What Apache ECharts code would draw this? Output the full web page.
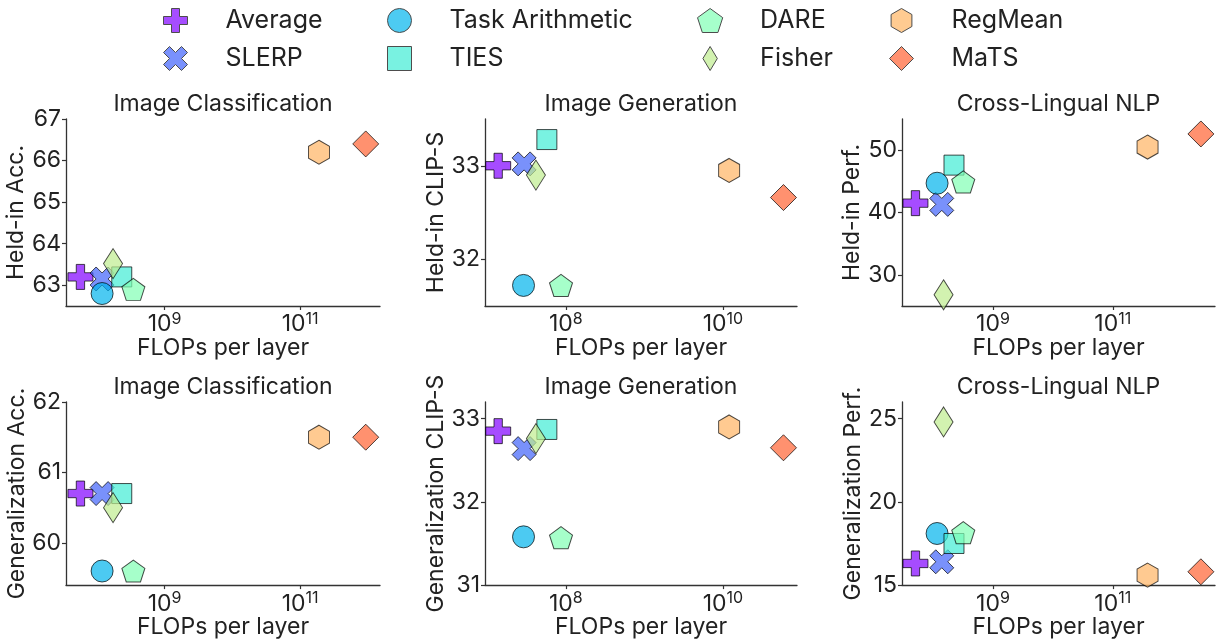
<!DOCTYPE html>
<html>
<head>
<meta charset="utf-8">
<script src="https://cdn.jsdelivr.net/npm/echarts@6/dist/echarts.min.js"></script>
<style>html,body{margin:0;padding:0;background:#fff}#c{width:1225px;height:640px}</style>
</head>
<body>
<div id="c"></div>
<script>
// ---- data ----
const methods = ['Average', 'SLERP', 'Task Arithmetic', 'TIES', 'DARE', 'Fisher', 'RegMean', 'MaTS'];
const tasks = ['Image Classification', 'Image Generation', 'Cross-Lingual NLP'];
// FLOPs per layer (x), per task, in method order
const flopsImgCls = [5.75e7, 1.2e8, 1.2e8, 2.34e8, 3.47e8, 1.74e8, 1.9e11, 9.3e11];
const flopsImgGen = [1.38e7, 2.95e7, 2.9e7, 5.75e7, 8.7e7, 4.17e7, 1.2e10, 5.9e10];
const flopsNLP    = [5.1e7, 1.4e8, 1.17e8, 2.24e8, 3.2e8, 1.5e8, 3.8e11, 2.95e12];
// held-in metric (top row)
const heldInImgCls = [63.2, 63.15, 62.8, 63.2, 62.9, 63.52, 66.2, 66.4];
const heldInImgGen = [33.0, 33.02, 31.72, 33.28, 31.72, 32.9, 32.95, 32.66];
const heldInNLP    = [41.5, 41.3, 44.7, 47.6, 44.9, 26.8, 50.5, 52.6];
// generalization metric (bottom row)
const genImgCls = [60.7, 60.7, 59.6, 60.7, 59.6, 60.5, 61.5, 61.5];
const genImgGen = [32.85, 32.64, 31.58, 32.87, 31.57, 32.76, 32.9, 32.65];
const genNLP    = [16.3, 16.4, 18.1, 17.5, 18.15, 24.8, 15.6, 15.8];
// axis labels and ticks
const yNames = ['Held-in Acc.', 'Held-in CLIP-S', 'Held-in Perf.', 'Generalization Acc.', 'Generalization CLIP-S', 'Generalization Perf.'];
const yTicks = [[63, 64, 65, 66, 67], [32, 33], [30, 40, 50], [60, 61, 62], [31, 32, 33], [15, 20, 25]];
const yRanges = [[62.5, 67], [31.5, 33.5], [25, 55], [59.4, 62], [31, 33.2], [15, 26]];
const xTicks = [[1e9, 1e11], [1e8, 1e10], [1e9, 1e11]];
const xRanges = [[3.52e7, 1.51e12], [9.38e6, 8.77e10], [3.04e7, 5.07e12]];
const xName = 'FLOPs per layer';

// ---- styling ----
const colors = ['#8000ff', '#4062fa', '#00b4ec', '#40ecd4', '#80ffb4', '#bfec8e', '#ffb462', '#ff6232'];
const legendColors = ['#a64dff', '#7991fc', '#4dcbf2', '#79f2e1', '#a6ffcb', '#d2f2b0', '#ffcb91', '#ff9170'];
const SYM = {
  plus: 'path://M1,0H2V1H3V2H2V3H1V2H0V1H1Z',
  x: 'path://M1,4L2,3L3,4L4,3L3,2L4,1L3,0L2,1L1,0L0,1L1,2L0,3Z',
  pent: 'path://M0,-1L0.951,-0.309L0.588,0.809L-0.588,0.809L-0.951,-0.309Z',
  hex: 'path://M0,-1L0.866,-0.5L0.866,0.5L0,1L-0.866,0.5L-0.866,-0.5Z',
  thin: 'path://M0,-5L3,0L0,5L-3,0Z',
  dia: 'path://M0,-1L1,0L0,1L-1,0Z',
  sq: 'path://M0,0H1V1H0Z'
};
const symbols = [SYM.plus, SYM.x, 'circle', 'rect', SYM.pent, SYM.thin, SYM.hex, SYM.dia];
const legendIcons = [SYM.plus, SYM.x, 'circle', SYM.sq, SYM.pent, SYM.thin, SYM.hex, SYM.dia];
const sizes = [25, 24, 22, 20, [23, 22], [19, 30], [21, 24], [26, 26]];

const FONT = 'Inter';
const FS = 23;
const TXT = '#222';
const AX = '#333';

const xData = [flopsImgCls, flopsImgGen, flopsNLP];
const yData = [heldInImgCls, heldInImgGen, heldInNLP, genImgCls, genImgGen, genNLP];

const lefts = [66, 485, 902];
const widths = [314, 312, 313];
const tops = [119, 402];
const heights = [187, 186];

const grids = [], xAxes = [], yAxes = [], series = [], titles = [];
for (let p = 0; p < 6; p++) {
  const col = p % 3, row = Math.floor(p / 3);
  grids.push({left: lefts[col], top: tops[row], width: widths[col], height: heights[row], containLabel: false});
  titles.push({
    text: tasks[col], left: lefts[col] + widths[col] / 2, top: tops[row] - 26, textAlign: 'center', padding: 0,
    textStyle: {fontFamily: FONT, fontSize: FS, fontWeight: 'normal', color: TXT}
  });
  xAxes.push({
    type: 'log', logBase: 10, gridIndex: p, min: xRanges[col][0], max: xRanges[col][1],
    name: xName, nameLocation: 'middle', nameGap: 24,
    nameTextStyle: {fontFamily: FONT, fontSize: FS, color: TXT},
    axisLine: {show: true, lineStyle: {color: AX, width: 1.3}},
    axisTick: {show: true, inside: false, length: 4, lineStyle: {color: AX, width: 1.2}, customValues: xTicks[col]},
    minorTick: {show: false},
    splitLine: {show: false},
    axisLabel: {
      customValues: xTicks[col], margin: 5,
      formatter: v => '{b|10}{s|' + Math.round(Math.log10(v)) + '}',
      rich: {
        b: {fontFamily: FONT, fontSize: FS, color: TXT},
        s: {fontFamily: FONT, fontSize: 16, color: TXT, padding: [0, 0, 11, 0]}
      }
    }
  });
  yAxes.push({
    type: 'value', gridIndex: p, min: yRanges[p][0], max: yRanges[p][1],
    name: yNames[p], nameLocation: 'middle', nameGap: 37, nameRotate: 90,
    nameTextStyle: {fontFamily: FONT, fontSize: FS, color: TXT},
    axisLine: {show: true, lineStyle: {color: AX, width: 1.3}},
    axisTick: {show: true, inside: false, length: 4, lineStyle: {color: AX, width: 1.2}, customValues: yTicks[p]},
    splitLine: {show: false},
    axisLabel: {customValues: yTicks[p], margin: 5, fontFamily: FONT, fontSize: FS, color: TXT}
  });
  for (let m = 0; m < methods.length; m++) {
    series.push({
      type: 'scatter', name: methods[m], xAxisIndex: p, yAxisIndex: p,
      symbol: symbols[m], symbolSize: sizes[m],
      itemStyle: {color: colors[m], opacity: 0.7, borderColor: '#000', borderWidth: 1},
      emphasis: {disabled: true},
      data: [[xData[col][m], yData[p][m]]]
    });
  }
}

const legendCols = [[0, 1], [2, 3], [4, 5], [6, 7]];
const iconCenters = [176, 400, 710, 902];
const legends = legendCols.map((idx, i) => ({
  orient: 'vertical', left: iconCenters[i] - 13, top: 8, padding: 0,
  itemWidth: 26, itemHeight: 24, itemGap: 13, symbolKeepAspect: true,
  textStyle: {fontFamily: FONT, fontSize: 25, lineHeight: 24, color: TXT, padding: [0, 0, 0, 32]},
  selectedMode: false,
  data: idx.map(k => ({
    name: methods[k], icon: legendIcons[k],
    itemStyle: {color: legendColors[k], borderColor: '#4d4d4d', borderWidth: 1, opacity: 1}
  }))
}));

const chart = echarts.init(document.getElementById('c'), null, {renderer: 'canvas'});
chart.setOption({
  backgroundColor: '#fff',
  animation: false,
  title: titles,
  legend: legends,
  grid: grids,
  xAxis: xAxes,
  yAxis: yAxes,
  series: series
});
</script>
</body>
</html>
